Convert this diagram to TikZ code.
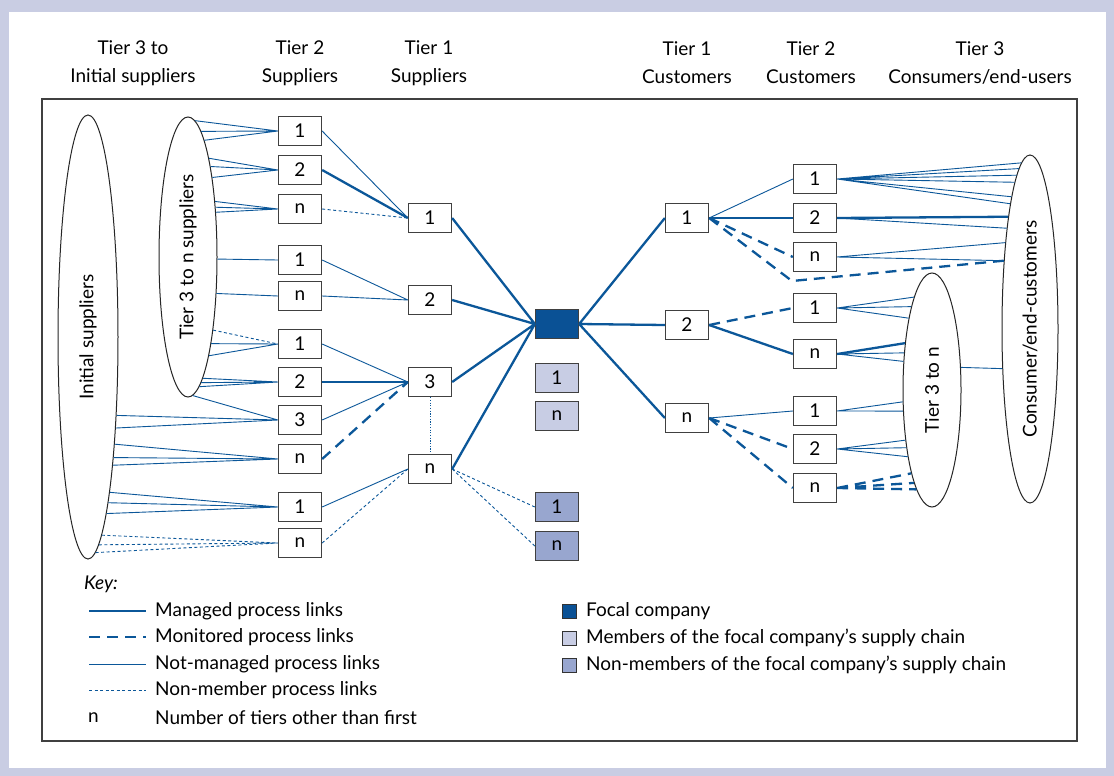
\documentclass[tikz,border=0pt]{standalone}
\usepackage{fontspec}
\setmainfont{Lato}
\usetikzlibrary{shapes.geometric}
\definecolor{lnk}{HTML}{0B5799}
\definecolor{focal}{HTML}{0A5195}
\definecolor{memb}{HTML}{C8CDE4}
\definecolor{nonmemb}{HTML}{98A6CF}
\definecolor{frame}{HTML}{C9CDE3}
\tikzstyle{txt}=[font=\fontsize{19}{28}\selectfont]
\tikzstyle{firm}=[rectangle,draw=black!75,line width=1.3pt,fill=white,minimum width=43pt,minimum height=29pt,inner sep=0pt,txt]
\tikzstyle{tier}=[ellipse,draw=black!85,line width=1pt,fill=white,inner sep=0pt,txt]
\tikzstyle{keybox}=[rectangle,draw=black!80,line width=1pt,minimum size=14pt,inner sep=0pt]
\tikzstyle{keytxt}=[anchor=west,inner sep=0pt,txt]
\tikzstyle{managed}=[lnk,line width=2.3pt]
\tikzstyle{monitored}=[lnk,line width=2.3pt,dash pattern=on 11pt off 7pt]
\tikzstyle{notmanaged}=[lnk,line width=0.9pt]
\tikzstyle{nonmember}=[lnk,line width=0.9pt,dash pattern=on 3pt off 2.5pt]
\begin{document}
\begin{tikzpicture}[x=1pt,y=-1pt]
\fill[frame] (0,0) rectangle (1114,776);
\fill[white] (9,12) rectangle (1106,768);
\draw[black!75,line width=1.3pt] (42,99) rectangle (1077,741);
\node[txt,align=center] (h1) at (133,63) {Tier 3 to\\Initial suppliers};
\node[txt,align=center] (h2) at (300,63) {Tier 2\\Suppliers};
\node[txt,align=center] (h3) at (429,63) {Tier 1\\Suppliers};
\node[txt,align=center] (h4) at (687,63) {Tier 1\\Customers};
\node[txt,align=center] (h5) at (811,63) {Tier 2\\Customers};
\node[txt,align=center] (h6) at (980,63) {Tier 3\\Consumers/end-users};
\node[tier,minimum width=60pt,minimum height=444pt] (IS) at (88,337) {\rotatebox{90}{Initial suppliers}};
\node[tier,minimum width=58pt,minimum height=280pt] (TS) at (188,257) {\rotatebox{90}{Tier 3 to n suppliers}};
\node[tier,minimum width=58pt,minimum height=234pt] (TC) at (932,390) {\rotatebox{90}{Tier 3 to n}};
\node[tier,minimum width=56pt,minimum height=348pt] (CE) at (1030,329) {\rotatebox{90}{Consumer/end-customers}};
\node[firm] (sa1) at (300,131) {1};
\node[firm] (sa2) at (300,170) {2};
\node[firm] (san) at (300,209) {n};
\node[firm] (sb1) at (300,260) {1};
\node[firm] (sbn) at (300,296) {n};
\node[firm] (sc1) at (300,344) {1};
\node[firm] (sc2) at (300,382) {2};
\node[firm] (sc3) at (300,420) {3};
\node[firm] (scn) at (300,459) {n};
\node[firm] (sd1) at (300,507) {1};
\node[firm] (sdn) at (300,543) {n};
\node[firm] (s1) at (430,218) {1};
\node[firm] (s2) at (430,300) {2};
\node[firm] (s3) at (430,382) {3};
\node[firm] (sn) at (430,469) {n};
\node[firm,fill=focal] (F) at (557,324) {};
\node[firm,fill=memb] (M1) at (557,378) {1};
\node[firm,fill=memb] (Mn) at (557,416) {n};
\node[firm,fill=nonmemb] (N1) at (557,507) {1};
\node[firm,fill=nonmemb] (Nn) at (557,546) {n};
\node[firm] (c1) at (687,218) {1};
\node[firm] (c2) at (687,325) {2};
\node[firm] (cn) at (687,418) {n};
\node[firm] (ca1) at (815,179) {1};
\node[firm] (ca2) at (815,218) {2};
\node[firm] (can) at (815,257) {n};
\node[firm] (cb1) at (815,308) {1};
\node[firm] (cbn) at (815,354) {n};
\node[firm] (cc1) at (815,411) {1};
\node[firm] (cc2) at (815,449) {2};
\node[firm] (ccn) at (815,488) {n};
\coordinate (cbend) at (792,281);
\draw[notmanaged] (TS.87)--(sa1.west) (TS.84)--(sa1.west) (TS.82)--(sa1.west);
\draw[notmanaged] (TS.78)--(sa2.west) (TS.76)--(sa2.west) (TS.73)--(sa2.west);
\draw[notmanaged] (TS.64)--(san.west) (TS.61)--(san.west) (TS.58)--(san.west);
\draw[notmanaged] (TS.-4)--(sb1.west); \draw[notmanaged] (TS.-52)--(sbn.west);
\draw[nonmember] (TS.-71)--(sc1.west); \draw[notmanaged] (TS.-75)--(sc1.west) (TS.-78)--(sc1.west);
\draw[notmanaged] (TS.-83)--(sc2.west) (TS.-84)--(sc2.west) (TS.-85)--(sc2.west);
\draw[notmanaged] (TS.-88)--(sc3.west) (IS.-70)--(sc3.west) (IS.-73)--(sc3.west);
\draw[notmanaged] (IS.-76)--(scn.west) (IS.-78)--(scn.west) (IS.-79)--(scn.west);
\draw[notmanaged] (IS.-82)--(sd1.west) (IS.-83)--(sd1.west) (IS.-84)--(sd1.west);
\draw[nonmember] (IS.-86)--(sdn.west) (IS.-87)--(sdn.west) (IS.-88)--(sdn.west);
\draw[notmanaged] (sa1.east)--(s1.west); \draw[managed] (sa2.east)--(s1.west); \draw[nonmember] (san.east)--(s1.west);
\draw[notmanaged] (sb1.east)--(s2.west) (sbn.east)--(s2.west);
\draw[notmanaged] (sc1.east)--(s3.west) (sc3.east)--(s3.west); \draw[managed] (sc2.east)--(s3.west); \draw[monitored] (scn.east)--(s3.west);
\draw[notmanaged] (sd1.east)--(sn.west); \draw[nonmember] (sdn.east)--(sn.west);
\draw[lnk,line width=0.8pt,dash pattern=on 1.2pt off 1.5pt] (s3.south)--(sn.north);
\draw[managed] (s1.east)--(F.west) (s2.east)--(F.west) (s3.east)--(F.west) (sn.east)--(F.west);
\draw[nonmember] (sn.east)--(N1.west) (sn.east)--(Nn.west);
\draw[managed] (F.east)--(c1.west) (F.east)--(c2.west) (F.east)--(cn.west);
\draw[notmanaged] (c1.east)--(ca1.west); \draw[managed] (c1.east)--(ca2.west); \draw[monitored] (c1.east)--(can.west) (c1.east)--(cbend)--(CE.111);
\draw[monitored] (c2.east)--(cb1.west); \draw[managed] (c2.east)--(cbn.west);
\draw[notmanaged] (cn.east)--(cc1.west); \draw[monitored] (cn.east)--(cc2.west) (cn.east)--(ccn.west);
\draw[notmanaged] (ca1.east)--(CE.93) (ca1.east)--(CE.94) (ca1.east)--(CE.95) (ca1.east)--(CE.96) (ca1.east)--(CE.98) (ca1.east)--(CE.99);
\draw[managed] (ca2.east)--(CE.101); \draw[notmanaged] (ca2.east)--(CE.103);
\draw[notmanaged] (can.east)--(CE.106) (can.east)--(CE.111);
\draw[notmanaged] (cb1.east)--(TC.101) (cb1.east)--(TC.104) (cb1.east)--(TC.108);
\draw[managed] (cbn.east)--(TC.120); \draw[notmanaged] (cbn.east)--(TC.127) (cbn.east)--(TC.135);
\draw[notmanaged] (cc1.east)--(TC.202) (cc1.east)--(TC.216);
\draw[notmanaged] (cc2.east)--(TC.242) (cc2.east)--(TC.246) (cc2.east)--(TC.250);
\draw[monitored] (ccn.east)--(TC.256) (ccn.east)--(TC.259) (ccn.east)--(TC.261);
\draw[notmanaged] (TC.38)--(CE.235);
\node[keytxt,font=\fontsize{19}{28}\itshape] (key) at (84,584) {Key:};
\node[keytxt] (k1) at (155,611) {Managed process links};
\node[keytxt] (k2) at (155,637) {Monitored process links};
\node[keytxt] (k3) at (155,664) {Not-managed process links};
\node[keytxt] (k4) at (155,690) {Non-member process links};
\node[keytxt] (k5) at (155,718) {Number of tiers other than first};
\node[keytxt] (kn) at (88,718) {n};
\draw[managed] ([xshift=-66pt]k1.west)--([xshift=-9pt]k1.west);
\draw[monitored] ([xshift=-66pt]k2.west)--([xshift=-9pt]k2.west);
\draw[notmanaged] ([xshift=-66pt]k3.west)--([xshift=-9pt]k3.west);
\draw[nonmember] ([xshift=-66pt]k4.west)--([xshift=-9pt]k4.west);
\node[keybox,fill=focal] (kf) at (569,611) {};
\node[keybox,fill=memb] (km) at (569,638) {};
\node[keybox,fill=nonmemb] (kx) at (569,665) {};
\node[keytxt] (kft) at (586,611) {Focal company};
\node[keytxt] (kmt) at (586,638) {Members of the focal company’s supply chain};
\node[keytxt] (kxt) at (586,665) {Non-members of the focal company’s supply chain};
\end{tikzpicture}
\end{document}
